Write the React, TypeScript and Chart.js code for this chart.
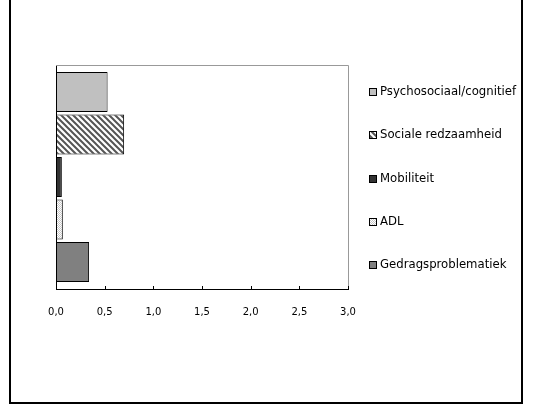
import React, { useEffect, useRef } from "react";
import { Chart, registerables } from "chart.js";

Chart.register(...registerables);

const seriesLabels = [
  "Psychosociaal/cognitief",
  "Sociale redzaamheid",
  "Mobiliteit",
  "ADL",
  "Gedragsproblematiek",
];
const seriesValues = [0.53, 0.7, 0.06, 0.07, 0.34];
const categories = [""];
const xTicks = [0, 0.5, 1.0, 1.5, 2.0, 2.5, 3.0];

function makeHatch(): CanvasPattern | string {
  const c = document.createElement("canvas");
  c.width = 6;
  c.height = 6;
  const g = c.getContext("2d");
  if (!g) return "#888";
  g.fillStyle = "#ffffff";
  g.fillRect(0, 0, 6, 6);
  g.strokeStyle = "#555555";
  g.lineWidth = 2;
  g.beginPath();
  g.moveTo(-1, -1);
  g.lineTo(7, 7);
  g.moveTo(-1, 5);
  g.lineTo(1, 7);
  g.moveTo(5, -1);
  g.lineTo(7, 1);
  g.stroke();
  return g.createPattern(c, "repeat") || "#888";
}

function makeDots(): CanvasPattern | string {
  const c = document.createElement("canvas");
  c.width = 2;
  c.height = 2;
  const g = c.getContext("2d");
  if (!g) return "#eee";
  g.fillStyle = "#ffffff";
  g.fillRect(0, 0, 2, 2);
  g.fillStyle = "#c8c8c8";
  g.fillRect(0, 0, 1, 1);
  g.fillRect(1, 1, 1, 1);
  return g.createPattern(c, "repeat") || "#eee";
}

export default function App() {
  const ref = useRef<HTMLCanvasElement | null>(null);

  useEffect(() => {
    if (!ref.current) return;
    const fills: (CanvasPattern | string)[] = [
      "#c0c0c0",
      makeHatch(),
      "#333333",
      makeDots(),
      "#808080",
    ];

    const frameLines = {
      id: "frameLines",
      beforeDatasetsDraw(chart: any) {
        const { ctx, chartArea } = chart;
        ctx.save();
        ctx.strokeStyle = "#999999";
        ctx.lineWidth = 1;
        ctx.beginPath();
        ctx.moveTo(chartArea.left, Math.round(chartArea.top) + 0.5);
        ctx.lineTo(Math.round(chartArea.right) + 0.5, Math.round(chartArea.top) + 0.5);
        ctx.lineTo(Math.round(chartArea.right) + 0.5, chartArea.bottom);
        ctx.stroke();
        ctx.restore();
      },
      afterDraw(chart: any) {
        const { ctx, chartArea } = chart;
        const xs = chart.scales.x;
        ctx.save();
        ctx.strokeStyle = "#000000";
        ctx.lineWidth = 1;
        ctx.beginPath();
        xTicks.forEach((v) => {
          if (v === 0) return;
          const px = Math.round(xs.getPixelForValue(v)) + 0.5;
          ctx.moveTo(px, chartArea.bottom);
          ctx.lineTo(px, chartArea.bottom - 3);
        });
        ctx.stroke();

        // legend
        const n = chart.data.datasets.length;
        const step = 43.3;
        const cy = (chartArea.top + chartArea.bottom) / 2 + 1;
        const bx = Math.round(chartArea.right) + 21;
        ctx.font = "11.7px 'DejaVu Sans'";
        ctx.textBaseline = "middle";
        ctx.textAlign = "left";
        chart.data.datasets.forEach((ds: any, i: number) => {
          const y = cy + (i - (n - 1) / 2) * step;
          const by = Math.round(y - 3.5);
          ctx.fillStyle = ds.backgroundColor;
          ctx.fillRect(bx, by, 7, 7);
          ctx.strokeStyle = "#000000";
          ctx.strokeRect(bx + 0.5, by + 0.5, 7, 7);
          ctx.fillStyle = "#000000";
          ctx.fillText(ds.label, bx + 11, y + 0.5);
        });
        ctx.restore();
      },
    };

    const chart = new Chart(ref.current, {
      type: "bar",
      data: {
        labels: categories,
        datasets: seriesLabels.map((label, i) => ({
          label,
          data: [seriesValues[i]],
          backgroundColor: fills[i] as any,
          borderColor: "#000000",
          borderWidth: 1,
          borderSkipped: false,
          categoryPercentage: 0.95,
          barPercentage: 0.94,
        })),
      },
      options: {
        indexAxis: "y",
        responsive: false,
        animation: false,
        devicePixelRatio: 1,
        layout: { padding: { left: 56, right: 193, top: 65, bottom: 86 } },
        plugins: {
          legend: { display: false },
          tooltip: { enabled: false },
          title: { display: false },
        },
        scales: {
          x: {
            type: "linear",
            min: 0,
            max: 3,
            afterBuildTicks: (s: any) => {
              s.ticks = xTicks.map((v) => ({ value: v }));
            },
            afterFit: (s: any) => {
              s.height = 30;
            },
            grid: { display: false },
            border: { display: true, color: "#000000", width: 1 },
            ticks: {
              padding: 9,
              color: "#000000",
              font: { family: "'DejaVu Sans'", size: 10 },
              callback: (v: any) => Number(v).toFixed(1).replace(".", ","),
            },
          },
          y: {
            type: "category",
            afterFit: (s: any) => {
              s.width = 0;
            },
            grid: { display: false },
            border: { display: true, color: "#000000", width: 1 },
            ticks: { display: false },
          },
        },
      },
      plugins: [frameLines],
    });
    return () => chart.destroy();
  }, []);

  return (
    <div
      style={{
        position: "absolute",
        left: 0,
        top: 0,
        width: 541,
        height: 405,
        overflow: "hidden",
        background: "#ffffff",
      }}
    >
      <canvas
        ref={ref}
        width={541}
        height={405}
        style={{ position: "absolute", left: 0, top: 0, width: 541, height: 405 }}
      />
      <div
        style={{
          position: "absolute",
          left: 9,
          top: -10,
          width: 514,
          height: 414,
          boxSizing: "border-box",
          borderLeft: "2px solid #000",
          borderRight: "2px solid #000",
          borderBottom: "2px solid #000",
          pointerEvents: "none",
        }}
      />
    </div>
  );
}
